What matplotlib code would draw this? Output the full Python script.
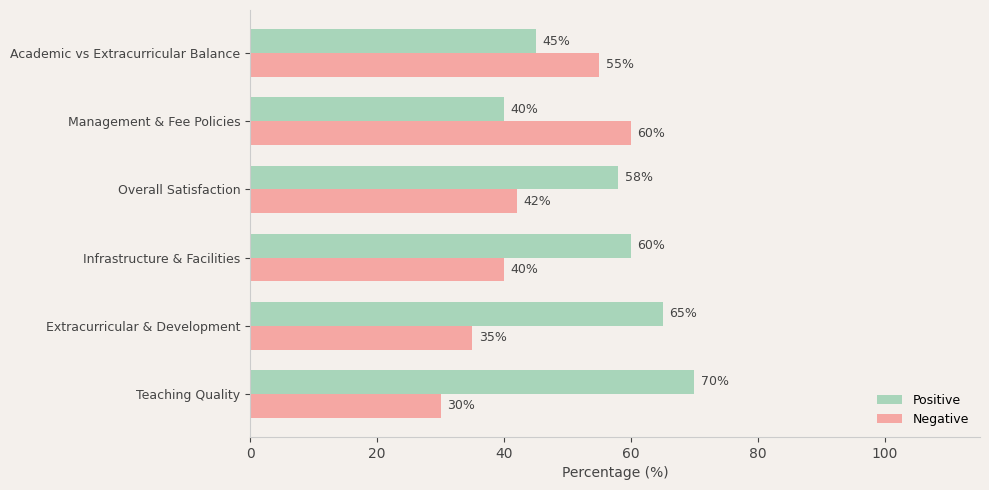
import numpy as np
import matplotlib.pyplot as plt

categories = ['Teaching Quality', 'Extracurricular & Development', 'Infrastructure & Facilities',
              'Overall Satisfaction', 'Management & Fee Policies', 'Academic vs Extracurricular Balance']
positive = [70, 65, 60, 58, 40, 45]
negative = [30, 35, 40, 42, 60, 55]

bg = '#f4f0ec'
txt = '#444444'

fig = plt.figure(figsize=(9.89, 4.9), dpi=100, facecolor=bg)
ax = fig.add_axes([0.253, 0.108, 0.738, 0.872], facecolor=bg)

y = np.arange(len(categories))
h = 0.35
bp = ax.barh(y + h / 2, positive, h, color='#a8d5ba', label='Positive')
bn = ax.barh(y - h / 2, negative, h, color='#f5a7a3', label='Negative')

for bars in (bp, bn):
    for b in bars:
        w = b.get_width()
        ax.text(w + 1, b.get_y() + b.get_height() / 2, f'{w:.0f}%',
                va='center', ha='left', fontsize=9, color=txt)

ax.set_yticks(y)
ax.set_yticklabels(categories, fontsize=9, color=txt)
ax.set_xlim(0, 115)
ax.set_xticks([0, 20, 40, 60, 80, 100])
ax.tick_params(axis='x', colors=txt, labelsize=10)
ax.tick_params(axis='y', colors=txt)
ax.set_xlabel('Percentage (%)', fontsize=10, color=txt)

for s in ['top', 'right']:
    ax.spines[s].set_visible(False)
for s in ['left', 'bottom']:
    ax.spines[s].set_color('#cccccc')

ax.legend(loc='lower right', frameon=False, fontsize=9)

fig.savefig('out.png', dpi=100, facecolor=bg)
